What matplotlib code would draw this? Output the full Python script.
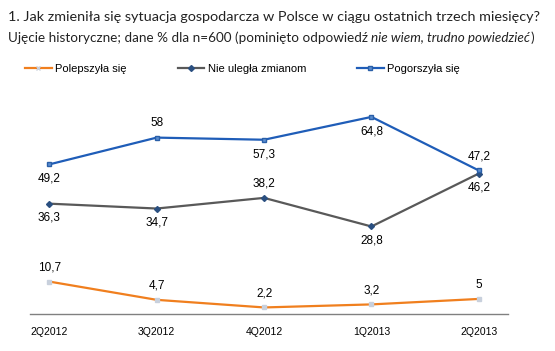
import matplotlib.pyplot as plt
from matplotlib.lines import Line2D

quarters = ['2Q2012', '3Q2012', '4Q2012', '1Q2013', '2Q2013']
polepszyla = [10.7, 4.7, 2.2, 3.2, 5]
nie_ulegla = [36.3, 34.7, 38.2, 28.8, 46.2]
pogorszyla = [49.2, 58, 57.3, 64.8, 47.2]
series_names = ['Polepszyła się', 'Nie uległa zmianom', 'Pogorszyła się']

# pozycje etykiet: 1 = nad punktem, -1 = pod punktem
pos_pol = [1, 1, 1, 1, 1]
pos_nie = [-1, -1, 1, -1, -1]
pos_pog = [-1, 1, -1, -1, 1]

c_orange = '#F07F1E'
c_gray = '#595959'
c_blue = '#1F5DB8'

fig = plt.figure(figsize=(5.55, 3.51), dpi=100)
ax = fig.add_axes([0.054, 0.105, 0.861, 0.607])

x = range(len(quarters))
ax.plot(x, polepszyla, color=c_orange, lw=1.6, marker='s', ms=3,
        mfc='#c8d0dc', mec='#c8d0dc', zorder=3)
ax.plot(x, nie_ulegla, color=c_gray, lw=1.6, marker='D', ms=3,
        mfc='#2a4f80', mec='#2a4f80', zorder=3)
ax.plot(x, pogorszyla, color=c_blue, lw=1.6, marker='s', ms=3.5,
        mfc='#5b8ed0', mec='#2a5fa8', zorder=3)

font = 'Liberation Sans'
for vals, pos in [(polepszyla, pos_pol), (nie_ulegla, pos_nie), (pogorszyla, pos_pog)]:
    for i, (v, p) in enumerate(zip(vals, pos)):
        txt = ('%g' % v).replace('.', ',')
        ax.annotate(txt, (i, v), xytext=(0, 6 * p), textcoords='offset points',
                    ha='center', va='bottom' if p > 0 else 'top',
                    fontsize=8.5, family=font, color='black')

ax.set_xlim(-0.18, 4.27)
ax.set_ylim(0, 70)
ax.set_xticks(list(x))
ax.set_xticklabels(quarters, fontsize=7.5, family=font)
ax.tick_params(axis='x', length=0, pad=9)
ax.set_yticks([])
for s in ['top', 'right', 'left']:
    ax.spines[s].set_visible(False)
ax.spines['bottom'].set_color('#808080')
ax.spines['bottom'].set_linewidth(1)

handles = [
    Line2D([], [], color=c_orange, lw=1.6, marker='x', ms=3, mec='#c8d0dc'),
    Line2D([], [], color=c_gray, lw=1.6, marker='D', ms=3, mfc='#2a4f80', mec='#2a4f80'),
    Line2D([], [], color=c_blue, lw=1.6, marker='s', ms=3.5, mfc='#5b8ed0', mec='#2a5fa8'),
]
fig.legend(handles, series_names, loc='center left', bbox_to_anchor=(0.045, 0.803), ncol=3,
           frameon=False, prop={'family': font, 'size': 8}, handlelength=2.4,
           handletextpad=0.3, columnspacing=4.6, borderpad=0, borderaxespad=0)

# tytul i podtytul - dopasowanie szerokosci do oryginalu
r = fig.canvas.get_renderer()
title = fig.text(0.014, 0.952, '1. Jak zmieniła się sytuacja gospodarcza w Polsce w ciągu ostatnich trzech miesięcy?',
                 fontsize=10.5, family='Lato', color='#222222', va='center')
w = title.get_window_extent(r).width
title.set_fontsize(10.5 * 535 / w)


def subtitle(fs):
    parts = [('Ujęcie historyczne; dane % dla n=600 (pominięto odpowiedź ', 'normal'),
             ('nie wiem, trudno powiedzieć', 'italic'), (')', 'normal')]
    xx = 0.014 * 555
    objs = []
    for s, st in parts:
        t = fig.text(xx / 555, 0.893, s, fontsize=fs, family='Lato', style=st,
                     color='#222222', va='center')
        xx = t.get_window_extent(r).x1
        objs.append(t)
    return objs, xx


objs, end = subtitle(8.6)
for t in objs:
    t.remove()
subtitle(8.6 * (528 - 8) / (end - 8))

fig.savefig('out.png', dpi=100)
